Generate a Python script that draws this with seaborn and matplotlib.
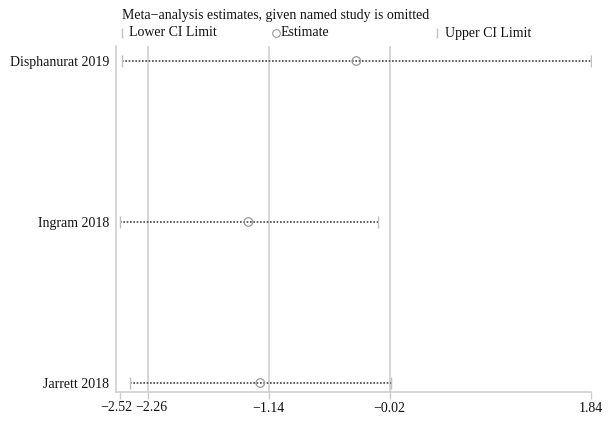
import numpy as np
import pandas as pd
import matplotlib.pyplot as plt
import matplotlib.transforms as mtransforms
import seaborn as sns

studies = ['Disphanurat 2019', 'Ingram 2018', 'Jarrett 2018']
estimate = [-0.33, -1.33, -1.22]
lower = [-2.50, -2.52, -2.43]
upper = [1.84, -0.13, -0.01]

# combined estimate and its CI (reference lines)
combined = [-2.26, -1.14, -0.02]
tick_vals = [-2.52, -2.26, -1.14, -0.02, 1.84]

df = pd.DataFrame({'study': studies, 'estimate': estimate,
                   'lower': lower, 'upper': upper})
df['pos'] = np.arange(len(df))

sns.set_theme(style='white')
plt.rcParams['font.family'] = ['Liberation Serif', 'DejaVu Serif']

fig = plt.figure(figsize=(6.08, 4.23), dpi=100)
W, H = 608, 423
ax = fig.add_axes([116 / W, 31 / H, (591 - 116) / W, (392 - 46) / H])

grid_col = '#cccccc'
for v in combined:
    ax.axvline(v, color=grid_col, lw=1.1, zorder=0)

ax.hlines(df['pos'], df['lower'], df['upper'], color='#444444',
          linestyles=(0, (1, 1)), lw=1.2, zorder=2)
sns.scatterplot(data=df, x='lower', y='pos', marker='|', s=70,
                color='#c0c0c0', linewidth=1, ax=ax, zorder=3)
sns.scatterplot(data=df, x='upper', y='pos', marker='|', s=70,
                color='#c0c0c0', linewidth=1, ax=ax, zorder=3)
sns.scatterplot(data=df, x='estimate', y='pos', marker='o', s=38,
                facecolor='none', edgecolor='#999999', linewidth=0.9,
                ax=ax, zorder=4)

ax.set_xlim(-2.52 - 4 / 108, 1.84 + 0.5 / 108)
ax.set_ylim(2 + 9 / 161, -15 / 161)
ax.set_xticks(tick_vals)
fmt = [f'{v:.2f}'.replace('-', '\u2212') for v in tick_vals]
# the two leftmost labels sit very close: draw them by hand, nudged apart
ax.set_xticklabels(['', ''] + fmt[2:], fontsize=10, color='#111111')
base = ax.get_xaxis_transform()
for v, s, dx in zip(tick_vals[:2], fmt[:2], [-4, 3.5]):
    tr = base + mtransforms.ScaledTranslation(dx / 100, -9 / 100, fig.dpi_scale_trans)
    ax.text(v, 0, s, transform=tr, fontsize=10, color='#111111',
            ha='center', va='top', clip_on=False)
ax.set_yticks(df['pos'])
ax.set_yticklabels(df['study'], fontsize=10, color='#111111')
ax.tick_params(axis='y', length=0, pad=5)
ax.tick_params(axis='x', length=5, width=1, color=grid_col, pad=2,
               direction='out', bottom=True)
ax.set_xlabel('')
ax.set_ylabel('')
for side in ['top', 'right']:
    ax.spines[side].set_visible(False)
for side in ['left', 'bottom']:
    ax.spines[side].set_color(grid_col)
    ax.spines[side].set_linewidth(1.1)

# title and legend row
fig.text(122 / W, 1 - 15 / H,
         'Meta\u2212analysis estimates, given named study is omitted',
         fontsize=10, ha='left', va='center', color='#111111')
ly = 1 - 33 / H
ax.plot([122 / W], [ly], marker='|', ms=7, color='#c0c0c0',
        transform=fig.transFigure, clip_on=False)
fig.text(129 / W, ly, 'Lower CI Limit', fontsize=10, ha='left',
         va='center', color='#111111')
ax.plot([276 / W], [ly], marker='o', ms=5.5, mfc='none', mec='#999999',
        mew=0.8, transform=fig.transFigure, clip_on=False)
fig.text(281 / W, ly, 'Estimate', fontsize=10, ha='left', va='center',
         color='#111111')
ax.plot([437 / W], [ly], marker='|', ms=7, color='#c0c0c0',
        transform=fig.transFigure, clip_on=False)
fig.text(445 / W, ly, 'Upper CI Limit', fontsize=10, ha='left',
         va='center', color='#111111')

fig.savefig('out.png', dpi=100)
